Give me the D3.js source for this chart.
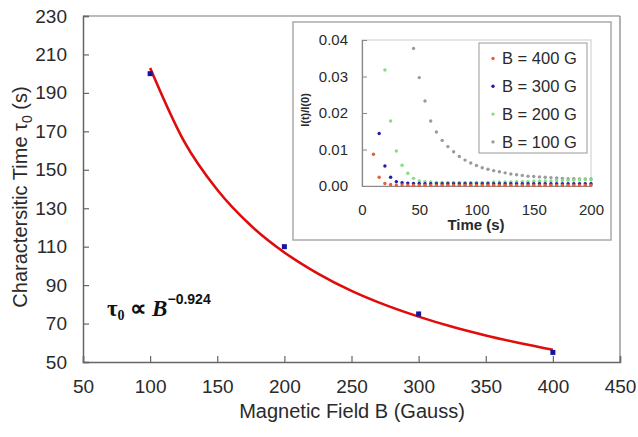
<!DOCTYPE html>
<html>
<head>
<meta charset="utf-8">
<script src="https://cdn.jsdelivr.net/npm/d3@7"></script>
<style>
  body { margin: 0; background: #fff; }
  svg { display: block; font-family: "Liberation Sans", Arial, sans-serif; }
</style>
</head>
<body>
<div id="chart"></div>
<script>
// Main plot data
const fieldB = [100, 200, 300, 400];
const tau0 = [200, 110, 75, 55];
// Power-law fit curve
const fitB = [100, 125, 150, 175, 200, 225, 250, 275, 300, 325, 350, 375, 400];
const fitTau = [203, 165.2, 139.6, 121.0, 107.0, 96.0, 87.0, 79.7, 73.6, 68.3, 63.8, 59.9, 56.4];
const xTicks = [50, 100, 150, 200, 250, 300, 350, 400, 450];
const yTicks = [50, 70, 90, 110, 130, 150, 170, 190, 210, 230];

// Inset data: time (s) and I(t)/I(0) per field
const insetTime = [10, 15, 20, 25, 30, 35, 40, 45, 50, 55, 60, 65, 70, 75, 80, 85, 90, 95, 100,
  105, 110, 115, 120, 125, 130, 135, 140, 145, 150, 155, 160, 165, 170, 175, 180, 185, 190, 195, 200];
const i400 = [0.0087, 0.0024, 0.0007, 0.0004, 0.0003, 0.0003, 0.0002, 0.0002, 0.0002, 0.0002,
  0.0002, 0.0002, 0.0002, 0.0002, 0.0002, 0.0002, 0.0002, 0.0002, 0.0002, 0.0002, 0.0002, 0.0002,
  0.0002, 0.0002, 0.0002, 0.0002, 0.0002, 0.0002, 0.0002, 0.0002, 0.0002, 0.0002, 0.0002, 0.0002,
  0.0002, 0.0002, 0.0002, 0.0002, 0.0002];
const i300 = [null, 0.0144, 0.0055, 0.0024, 0.0012, 0.0009, 0.0008, 0.0007, 0.0007, 0.0006,
  0.0006, 0.0006, 0.0006, 0.0006, 0.0006, 0.0006, 0.0006, 0.0006, 0.0006, 0.0006, 0.0006, 0.0006,
  0.0006, 0.0006, 0.0006, 0.0006, 0.0006, 0.0006, 0.0006, 0.0006, 0.0006, 0.0006, 0.0006, 0.0006,
  0.0006, 0.0006, 0.0006, 0.0006, 0.0006];
const i200 = [null, null, 0.0318, 0.0178, 0.0096, 0.0057, 0.0035, 0.0021, 0.0014, 0.0012,
  0.0011, 0.0010, 0.0010, 0.0010, 0.0010, 0.0010, 0.0010, 0.0010, 0.0010, 0.0010, 0.0010, 0.0011,
  0.0011, 0.0011, 0.0011, 0.0012, 0.0012, 0.0012, 0.0013, 0.0013, 0.0014, 0.0014, 0.0015, 0.0015,
  0.0016, 0.0016, 0.0017, 0.0017, 0.0017];
const i100 = [null, null, null, null, null, null, null, 0.0377, 0.0297, 0.0233,
  0.0178, 0.0148, 0.0125, 0.0108, 0.0094, 0.0081, 0.0071, 0.0063, 0.0056, 0.0050, 0.0046, 0.0042,
  0.0039, 0.0036, 0.0033, 0.0031, 0.0029, 0.0027, 0.0026, 0.0025, 0.0024, 0.0023, 0.0022, 0.0021,
  0.0020, 0.0020, 0.0019, 0.0019, 0.0019];
const insetXTicks = [0, 50, 100, 150, 200];
const insetYTicks = [0, 0.01, 0.02, 0.03, 0.04];

const series = [
  { label: "B = 400 G", values: i400, color: "#e4603c" },
  { label: "B = 300 G", values: i300, color: "#1c1ca8" },
  { label: "B = 200 G", values: i200, color: "#80e07c" },
  { label: "B = 100 G", values: i100, color: "#9a9a9a" }
];

const W = 638, H = 437;
const svg = d3.select("#chart").append("svg")
    .attr("width", W)
    .attr("height", H);

// ---- main plot ----
const x = d3.scaleLinear().domain([50, 450]).range([83, 620]);
const y = d3.scaleLinear().domain([50, 230]).range([362, 16]);

// frame
svg.append("line").attr("x1", 83).attr("x2", 620).attr("y1", 16).attr("y2", 16)
    .attr("stroke", "#bbb").attr("stroke-width", 2);
svg.append("line").attr("x1", 620).attr("x2", 620).attr("y1", 16).attr("y2", 362)
    .attr("stroke", "#999").attr("stroke-width", 1.5);

const xAxis = svg.append("g")
    .attr("transform", "translate(0,362)")
    .call(d3.axisBottom(x).tickValues(xTicks).tickSize(-6).tickPadding(14));
const yAxis = svg.append("g")
    .attr("transform", "translate(83,0)")
    .call(d3.axisLeft(y).tickValues(yTicks).tickSize(-6).tickPadding(16));

[xAxis, yAxis].forEach(g => {
  g.select(".domain").attr("stroke", "#666").attr("stroke-width", 1.5);
  g.selectAll(".tick line").attr("stroke", "#666").attr("stroke-width", 1.2);
  g.selectAll(".tick text").attr("fill", "#2a2a2a")
      .style("font-size", "19px")
      .style("font-family", "'Liberation Sans', Arial, sans-serif");
});
xAxis.selectAll(".tick text").attr("dy", "0.9em");

// axis titles
svg.append("text")
    .attr("x", 352).attr("y", 418)
    .attr("text-anchor", "middle")
    .attr("fill", "#2a2a2a")
    .style("font-size", "20px")
    .text("Magnetic Field B (Gauss)");

const yTitle = svg.append("text")
    .attr("transform", "translate(27,197) rotate(-90)")
    .attr("text-anchor", "middle")
    .attr("fill", "#2a2a2a")
    .style("font-size", "20px");
yTitle.append("tspan").text("Charactersitic Time \u03c4");
yTitle.append("tspan").attr("dy", 5).style("font-size", "14px").text("0");
yTitle.append("tspan").attr("dy", -5).text(" (s)");

// fit curve
const fitData = fitB.map((b, i) => ({ b: b, t: fitTau[i] }));
svg.append("path")
    .datum(fitData)
    .attr("fill", "none")
    .attr("stroke", "#e00c0c")
    .attr("stroke-width", 2.6)
    .attr("d", d3.line().x(d => x(d.b)).y(d => y(d.t)).curve(d3.curveMonotoneX));

// data points
svg.append("g")
    .selectAll("rect")
    .data(fieldB.map((b, i) => ({ b: b, t: tau0[i] })))
    .enter()
    .append("rect")
    .attr("x", d => x(d.b) - 2.5)
    .attr("y", d => y(d.t) - 2.5)
    .attr("width", 5)
    .attr("height", 5)
    .attr("fill", "#1414a0");

// annotation
const ann = svg.append("text")
    .attr("x", 107).attr("y", 316)
    .attr("fill", "#111")
    .style("font-family", "'Liberation Serif', 'Times New Roman', serif")
    .style("font-weight", "bold")
    .style("font-size", "23px");
ann.append("tspan").text("\u03c4");
ann.append("tspan").attr("dy", 4).style("font-size", "14px").text("0");
ann.append("tspan").attr("dy", -4).text(" \u221d ");
ann.append("tspan").style("font-style", "italic").text("B");
ann.append("tspan").attr("dy", -12)
    .style("font-family", "'Liberation Sans Narrow', 'Liberation Sans', Arial, sans-serif")
    .style("font-size", "14px")
    .text("\u22120.924");

// ---- inset ----
svg.append("rect")
    .attr("x", 293).attr("y", 22)
    .attr("width", 318).attr("height", 218)
    .attr("fill", "#fff")
    .attr("stroke", "#aaa")
    .attr("stroke-width", 1.5);

const ix = d3.scaleLinear().domain([0, 200]).range([362, 591]);
const iy = d3.scaleLinear().domain([0, 0.04]).range([186, 40]);

svg.append("rect")
    .attr("x", 362).attr("y", 40)
    .attr("width", 229).attr("height", 146)
    .attr("fill", "none")
    .attr("stroke", "#ccc");

const ixAxis = svg.append("g")
    .attr("transform", "translate(0,186)")
    .call(d3.axisBottom(ix).tickValues(insetXTicks).tickSize(0).tickPadding(18));
const iyAxis = svg.append("g")
    .attr("transform", "translate(362,0)")
    .call(d3.axisLeft(iy).tickValues(insetYTicks).tickFormat(d3.format(".2f")).tickSize(-5).tickPadding(14));

[ixAxis, iyAxis].forEach(g => {
  g.select(".domain").attr("stroke", "#888").attr("stroke-width", 1.2);
  g.selectAll(".tick line").attr("stroke", "#888");
  g.selectAll(".tick text").attr("fill", "#2a2a2a")
      .style("font-size", "15px")
      .style("font-family", "'Liberation Sans', Arial, sans-serif");
});

svg.append("text")
    .attr("x", 476).attr("y", 230)
    .attr("text-anchor", "middle")
    .attr("fill", "#2a2a2a")
    .style("font-size", "15px")
    .style("font-weight", "bold")
    .text("Time (s)");

svg.append("text")
    .attr("transform", "translate(309,110) rotate(-90)")
    .attr("text-anchor", "middle")
    .attr("fill", "#2a2a2a")
    .style("font-size", "11px")
    .style("font-weight", "bold")
    .text("I(t)/I(0)");

// inset dots (draw B=100 first so the others sit on top)
series.slice().reverse().forEach(s => {
  const pts = insetTime.map((t, i) => ({ t: t, v: s.values[i] })).filter(d => d.v !== null);
  svg.append("g")
      .selectAll("circle")
      .data(pts)
      .enter()
      .append("circle")
      .attr("cx", d => ix(d.t))
      .attr("cy", d => iy(d.v))
      .attr("r", 1.7)
      .attr("fill", s.color);
});

// legend
svg.append("rect")
    .attr("x", 479).attr("y", 43)
    .attr("width", 108).attr("height", 110)
    .attr("fill", "#fff")
    .attr("stroke", "#999");

const leg = svg.append("g").selectAll("g")
    .data(series)
    .enter()
    .append("g")
    .attr("transform", (d, i) => "translate(0," + (58.5 + i * 27.8) + ")");
leg.append("circle")
    .attr("cx", 493).attr("cy", 0).attr("r", 1.7)
    .attr("fill", d => d.color);
leg.append("text")
    .attr("x", 502).attr("y", 0)
    .attr("dy", "0.35em")
    .attr("fill", "#2a2a2a")
    .style("font-size", "16.5px")
    .text(d => d.label);
</script>
</body>
</html>
